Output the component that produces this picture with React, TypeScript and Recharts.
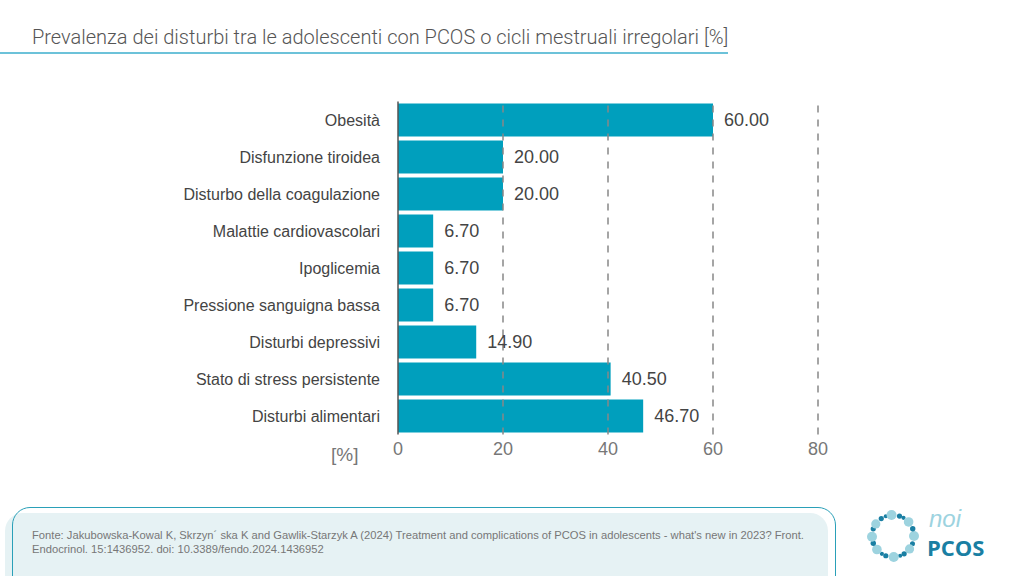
import React from 'react';
import { BarChart, Bar, XAxis, YAxis, ReferenceLine, LabelList } from 'recharts';

const categories = [
  'Obesità',
  'Disfunzione tiroidea',
  'Disturbo della coagulazione',
  'Malattie cardiovascolari',
  'Ipoglicemia',
  'Pressione sanguigna bassa',
  'Disturbi depressivi',
  'Stato di stress persistente',
  'Disturbi alimentari',
];
const values = [60.0, 20.0, 20.0, 6.7, 6.7, 6.7, 14.9, 40.5, 46.7];
const xTicks = [0, 20, 40, 60, 80];

const data = categories.map((name, i) => ({ name, value: values[i] }));

const BAR = '#009fbd';
const FONT = '"Liberation Sans", Arial, sans-serif';

// ring of dots for the noi PCOS logo
const dots: [number, number, string][] = [
  [0, 5, '#9dd3df'], [22, 2.5, '#1a7fa3'], [38, 4.6, '#9dd3df'], [58, 2.6, '#1a7fa3'],
  [70, 2.1, '#1a7fa3'], [88, 5, '#9dd3df'], [110, 2.6, '#1a7fa3'], [122, 2.1, '#1a7fa3'],
  [140, 4.8, '#9dd3df'], [160, 2.7, '#1a7fa3'], [178, 5, '#9dd3df'], [200, 2.6, '#1a7fa3'],
  [215, 4.6, '#9dd3df'], [236, 2.6, '#1a7fa3'], [250, 2.1, '#1a7fa3'], [266, 5, '#9dd3df'],
  [288, 2.6, '#1a7fa3'], [300, 2.1, '#1a7fa3'], [318, 4.8, '#9dd3df'], [340, 2.7, '#1a7fa3'],
];

function Logo() {
  const cx = 893;
  const cy = 536;
  const r = 21;
  return (
    <svg width={1024} height={576} style={{ position: 'absolute', left: 0, top: 0, pointerEvents: 'none' }}>
      {dots.map(([a, s, c], i) => {
        const rad = (a * Math.PI) / 180;
        return <circle key={i} cx={cx + r * Math.cos(rad)} cy={cy + r * Math.sin(rad)} r={s} fill={c} />;
      })}
      <text x={929} y={527} fontFamily={FONT} fontStyle="italic" fontSize={24} fill="#9dd3df">noi</text>
      <text x={927} y={556} fontFamily='"Open Sans", sans-serif' fontWeight={700} fontSize={22} fill="#1a7fa3">PCOS</text>
    </svg>
  );
}

export default function App() {
  return (
    <div style={{ position: 'fixed', left: 0, top: 0, width: 1024, height: 576, background: '#fff', overflow: 'hidden', fontFamily: FONT }}>
      <div style={{ position: 'absolute', left: 32, top: 25, fontSize: 20, color: '#555', fontFamily: 'Roboto, sans-serif', fontWeight: 300, whiteSpace: 'nowrap' }}>
        Prevalenza dei disturbi tra le adolescenti con PCOS o cicli mestruali irregolari [%]
      </div>
      <div style={{ position: 'absolute', left: 0, top: 52, width: 728, height: 1.5, background: '#6cc2d9' }} />

      <div style={{ position: 'absolute', left: 0, top: 0 }}>
        <BarChart
          width={1024}
          height={576}
          data={data}
          layout="vertical"
          margin={{ top: 101.5, right: 206, bottom: 0, left: 0 }}
          barCategoryGap={2}
        >
          <XAxis
            type="number"
            domain={[0, 80]}
            ticks={xTicks}
            axisLine={false}
            tickLine={false}
            tickSize={0}
            tickMargin={8}
            height={141.5}
            tick={{ fontSize: 18, fill: '#777', fontFamily: FONT }}
            label={{ value: '[%]', position: 'insideTopLeft', dx: -72, dy: 8, fontSize: 19, fill: '#777', fontFamily: FONT }}
          />
          <YAxis
            type="category"
            dataKey="name"
            width={398}
            axisLine={{ stroke: '#555', strokeWidth: 1.5 }}
            tickLine={false}
            tickSize={0}
            tickMargin={18}
            tick={{ fontSize: 16, fill: '#444', fontFamily: FONT }}
          />
          <Bar dataKey="value" fill={BAR} isAnimationActive={false}>
            <LabelList
              dataKey="value"
              position="right"
              offset={11}
              formatter={(v: any) => Number(v).toFixed(2)}
              style={{ fontSize: 18, fill: '#444', fontFamily: FONT }}
            />
          </Bar>
          {xTicks.slice(1).map((t) => (
            <ReferenceLine key={t} x={t} stroke="#888" strokeWidth={1.5} strokeDasharray="7 7" />
          ))}
        </BarChart>
      </div>

      <div style={{ position: 'absolute', left: 5, top: 513, width: 823, height: 80, background: '#e6f2f4', borderRadius: 18 }} />
      <div style={{ position: 'absolute', left: 12, top: 507, width: 824, height: 90, border: '1.5px solid #2aa0b8', borderRadius: 18, boxSizing: 'border-box' }} />
      <div style={{ position: 'absolute', left: 32, top: 528, width: 800, fontSize: 11.2, lineHeight: '14px', color: '#777' }}>
        Fonte: Jakubowska-Kowal K, Skrzyn´ ska K and Gawlik-Starzyk A (2024) Treatment and complications of PCOS in adolescents - what's new in 2023? Front.
        <br />
        Endocrinol. 15:1436952. doi: 10.3389/fendo.2024.1436952
      </div>
      <Logo />
    </div>
  );
}
